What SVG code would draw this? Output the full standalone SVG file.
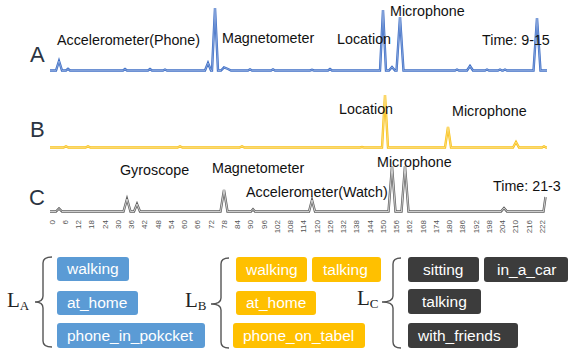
<svg xmlns="http://www.w3.org/2000/svg" width="569" height="351" viewBox="0 0 569 351">
<style>
.lbl{font-family:"Liberation Sans",Arial,sans-serif;font-size:14.3px;fill:#111}
.row{font-family:"Liberation Sans",Arial,sans-serif;font-size:22px;fill:#2b3442}
.tick{font-family:"Liberation Sans",Arial,sans-serif;font-size:8px;fill:#555}
.tr{fill:none;stroke-linejoin:miter;stroke-width:2.4}
.in{fill:none;stroke:#fff;stroke-width:0.7}
.tag{font-family:"Liberation Sans",Arial,sans-serif;font-size:15.5px;fill:#fff}
.math{font-family:"Liberation Serif","Times New Roman",serif;fill:#222}
.brace{fill:none;stroke:#555;stroke-width:1.4}
.ta{fill:#5B9BD5}.tb{fill:#FFC000}.tc{fill:#3C3C3C}
</style>
<defs>
<path id="pA" d="M50 70.5 L56 70.5 L59 61 L62 70.5 L66 70.5 L68 68.8 L70 70.5 L123 70.5 L125 69 L127 70.5 L148 70.5 L150 69 L152 70.5 L163 70.5 L165 69.5 L167 70.5 L205 70.5 L208 63 L211 70.5 L212 70.5 L215 8 L218 70.5 L221 70.5 L224 67.5 L228 69 L231 70.5 L248 70.5 L250 69.3 L252 70.5 L271 70.5 L273 69.3 L275 70.5 L310 70.5 L312 69.8 L314 70.5 L328 70.5 L330 69 L332 70.5 L380 70.5 L383 10 L386 70.5 L389 70.5 L392 67 L395 70.5 L396.5 70.5 L400 17 L403.5 70.5 L455 70.5 L457 69.5 L459 70.5 L467 70.5 L470 66 L473 70.5 L485 70.5 L487 69.5 L489 70.5 L498 70.5 L500 69.5 L502 70.5 L503 70.5 L505 69.5 L507 70.5 L533.5 70.5 L537 18 L540.5 70.5 L547 70.5"/>
<path id="pB" d="M50 147.5 L63.5 147.5 L66 146.3 L68.5 147.5 L85.5 147.5 L88 146.3 L90.5 147.5 L177.5 147.5 L180 146.3 L182.5 147.5 L239.5 147.5 L242 146.3 L244.5 147.5 L360 147.5 L362 147 L364 147.5 L382 147.5 L385 95 L388 147.5 L445 147.5 L448 127 L451 147.5 L513 147.5 L516 142 L519 147.5 L542 147.5 L544 146.3 L546 147.5 L547 147.5"/>
<path id="pC" d="M50 211.5 L56 211.5 L59 208.5 L62 211.5 L123.5 211.5 L127 199 L130.5 211.5 L134 211.5 L137 204 L140 211.5 L220.5 211.5 L224 190 L227.5 211.5 L251 211.5 L253 209.3 L255 211.5 L309 211.5 L312 200 L315 211.5 L388.5 211.5 L392 166 L395.5 211.5 L401.5 211.5 L405 166 L408.5 211.5 L501 211.5 L504 208 L507 211.5 L543.5 211.5 L545.5 197"/>
</defs>

<g id="connectors">
<use href="#pA" class="tr" stroke="#3F6FC6"/>
<use href="#pA" class="in" stroke-opacity="0.5"/>
<use href="#pB" class="tr" stroke="#F9C21A"/>
<use href="#pB" class="in" stroke-opacity="0.55"/>
<use href="#pC" class="tr" stroke="#5f5f5f"/>
<use href="#pC" class="in" stroke="#e4e4e4"/>
</g>

<g id="rowA">
<text class="row" x="30" y="62">A</text>
<text class="lbl" x="57" y="45">Accelerometer(Phone)</text>
<text class="lbl" x="222" y="43">Magnetometer</text>
<text class="lbl" x="337" y="44">Location</text>
<text class="lbl" x="390" y="16">Microphone</text>
<text class="lbl" x="482" y="45">Time: 9-15</text>
</g>
<g id="rowB">
<text class="row" x="30" y="137">B</text>
<text class="lbl" x="339" y="114">Location</text>
<text class="lbl" x="452" y="116">Microphone</text>
</g>
<g id="rowC">
<text class="row" x="29" y="205">C</text>
<text class="lbl" x="120" y="175">Gyroscope</text>
<text class="lbl" x="212" y="173">Magnetometer</text>
<text class="lbl" x="246" y="197">Accelerometer(Watch)</text>
<text class="lbl" x="377" y="167">Microphone</text>
<text class="lbl" x="493" y="191">Time: 21-3</text>
</g>

<g id="axis" class="tick" text-anchor="end">
<text transform="translate(54.5,220) rotate(-90)">0</text>
<text transform="translate(67.8,220) rotate(-90)">6</text>
<text transform="translate(81.0,220) rotate(-90)">12</text>
<text transform="translate(94.3,220) rotate(-90)">18</text>
<text transform="translate(107.5,220) rotate(-90)">24</text>
<text transform="translate(120.8,220) rotate(-90)">30</text>
<text transform="translate(134.0,220) rotate(-90)">36</text>
<text transform="translate(147.3,220) rotate(-90)">42</text>
<text transform="translate(160.5,220) rotate(-90)">48</text>
<text transform="translate(173.8,220) rotate(-90)">54</text>
<text transform="translate(187.0,220) rotate(-90)">60</text>
<text transform="translate(200.3,220) rotate(-90)">66</text>
<text transform="translate(213.5,220) rotate(-90)">72</text>
<text transform="translate(226.8,220) rotate(-90)">78</text>
<text transform="translate(240.0,220) rotate(-90)">84</text>
<text transform="translate(253.3,220) rotate(-90)">90</text>
<text transform="translate(266.5,220) rotate(-90)">96</text>
<text transform="translate(279.8,220) rotate(-90)">102</text>
<text transform="translate(293.0,220) rotate(-90)">108</text>
<text transform="translate(306.3,220) rotate(-90)">114</text>
<text transform="translate(319.5,220) rotate(-90)">120</text>
<text transform="translate(332.8,220) rotate(-90)">126</text>
<text transform="translate(346.0,220) rotate(-90)">132</text>
<text transform="translate(359.3,220) rotate(-90)">138</text>
<text transform="translate(372.5,220) rotate(-90)">144</text>
<text transform="translate(385.8,220) rotate(-90)">150</text>
<text transform="translate(399.0,220) rotate(-90)">156</text>
<text transform="translate(412.3,220) rotate(-90)">162</text>
<text transform="translate(425.5,220) rotate(-90)">168</text>
<text transform="translate(438.8,220) rotate(-90)">174</text>
<text transform="translate(452.0,220) rotate(-90)">180</text>
<text transform="translate(465.3,220) rotate(-90)">186</text>
<text transform="translate(478.5,220) rotate(-90)">192</text>
<text transform="translate(491.8,220) rotate(-90)">198</text>
<text transform="translate(505.0,220) rotate(-90)">204</text>
<text transform="translate(518.3,220) rotate(-90)">210</text>
<text transform="translate(531.5,220) rotate(-90)">216</text>
<text transform="translate(544.8,220) rotate(-90)">222</text>
</g>

<g id="LA">
<text class="math" x="7" y="307" font-size="21">L<tspan font-size="13" dy="3">A</tspan></text>
<path class="brace" d="M52 257 Q43 257 43 263 L43 296 Q43 302 35 302 Q43 302 43 308 L43 341 Q43 347 52 347"/>
</g>
<g id="tagA1"><rect class="ta" x="57" y="257" width="72" height="24" rx="3"/><text class="tag" x="67" y="274">walking</text></g>
<g id="tagA2"><rect class="ta" x="57" y="291" width="81" height="24" rx="3"/><text class="tag" x="67" y="308">at_home</text></g>
<g id="tagA3"><rect class="ta" x="57" y="323" width="148" height="25" rx="3"/><text class="tag" x="67" y="341">phone_in_pokcket</text></g>

<g id="LB">
<text class="math" x="185" y="307" font-size="21">L<tspan font-size="13" dy="3">B</tspan></text>
<path class="brace" d="M229 258 Q221 258 221 264 L221 298 Q221 304 211 304 Q221 304 221 310 L221 342 Q221 348 229 348"/>
</g>
<g id="tagB1"><rect class="tb" x="236" y="257" width="71" height="25" rx="3"/><text class="tag" x="246" y="275">walking</text></g>
<g id="tagB2"><rect class="tb" x="312" y="257" width="69" height="25" rx="3"/><text class="tag" x="323" y="275">talking</text></g>
<g id="tagB3"><rect class="tb" x="236" y="291" width="80" height="24" rx="3"/><text class="tag" x="246" y="308">at_home</text></g>
<g id="tagB4"><rect class="tb" x="233" y="323" width="132" height="25" rx="3"/><text class="tag" x="243" y="341">phone_on_tabel</text></g>

<g id="LC">
<text class="math" x="357" y="305" font-size="21">L<tspan font-size="13" dy="3">C</tspan></text>
<path class="brace" d="M401 258 Q393 258 393 264 L393 296 Q393 302 382 302 Q393 302 393 308 L393 342 Q393 348 401 348"/>
</g>
<g id="tagC1"><rect class="tc" x="408" y="257" width="71" height="25" rx="3"/><text class="tag" x="423" y="275">sitting</text></g>
<g id="tagC2"><rect class="tc" x="484" y="257" width="84" height="25" rx="3"/><text class="tag" x="497" y="275">in_a_car</text></g>
<g id="tagC3"><rect class="tc" x="408" y="289" width="73" height="25" rx="3"/><text class="tag" x="422" y="307">talking</text></g>
<g id="tagC4"><rect class="tc" x="408" y="323" width="110" height="25" rx="3"/><text class="tag" x="418" y="341">with_friends</text></g>
</svg>
